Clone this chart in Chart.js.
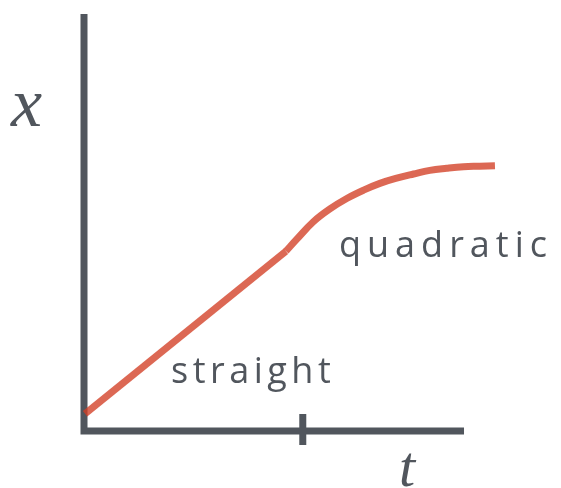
<!doctype html>
<html lang="en">
<head>
    <meta charset="utf-8">
    <title>Straight then quadratic</title>
    <script src="https://cdn.jsdelivr.net/npm/chart.js@4.4.1/dist/chart.umd.min.js"></script>
    <style>
        html, body { margin: 0; padding: 0; background: #ffffff; }
        #wrap { position: relative; width: 561px; height: 488px; }
    </style>
</head>
<body>
<div id="wrap">
    <canvas id="motionCanvas"></canvas>
</div>

<script>
    // values (t across, x up)
    let straightT = [0.02, 3.72];
    let straightX = [0.33, 3.45];
    let quadT = [3.72, 3.92, 4.22, 4.53, 4.84, 5.15, 5.45, 5.76, 6.07, 6.37, 6.68, 6.99, 7.29, 7.57];
    let quadX = [3.45, 3.68, 4.01, 4.26, 4.46, 4.62, 4.75, 4.85, 4.93, 5.00, 5.04, 5.07, 5.08, 5.09];
    let tickT = [4.03];
    let axisEnd = { t: 7, x: 8 };
    let labels = ['straight', 'quadratic'];
    let axisTitles = ['x', 't'];

    const axisColor = '#51565d';
    const curveColor = 'rgba(210, 62, 36, 0.78)';

    function toPoints(ts, xs) {
        return ts.map(function (t, i) {
            return { x: t, y: xs[i] };
        });
    }

    const axesPlugin = {
        id: 'axesPlugin',
        beforeDatasetsDraw(chart) {
            let ctx = chart.ctx;
            let area = chart.chartArea;
            let xs = chart.scales.x;
            let ys = chart.scales.y;
            let x0 = xs.getPixelForValue(0);
            let y0 = ys.getPixelForValue(0);
            ctx.save();
            ctx.strokeStyle = axisColor;
            ctx.lineWidth = 7;
            ctx.lineCap = 'butt';
            ctx.beginPath();
            ctx.moveTo(x0, ys.getPixelForValue(axisEnd.x));
            ctx.lineTo(x0, y0 + 3.5);
            ctx.moveTo(x0 - 3.5, y0);
            ctx.lineTo(xs.getPixelForValue(axisEnd.t), y0);
            tickT.forEach(function (t) {
                let px = xs.getPixelForValue(t);
                ctx.moveTo(px, y0 - 17);
                ctx.lineTo(px, y0 + 14);
            });
            ctx.stroke();
            ctx.restore();
        },
        afterDraw(chart) {
            let ctx = chart.ctx;
            ctx.save();
            ctx.fillStyle = axisColor;
            ctx.textBaseline = 'alphabetic';
            ctx.textAlign = 'left';
            ctx.font = 'italic 70px "Liberation Serif", serif';
            ctx.fillText(axisTitles[0], 11, 126);
            ctx.font = 'italic 58px "Liberation Serif", serif';
            ctx.fillText(axisTitles[1], 399, 486);
            ctx.font = '36px "Open Sans"';
            ctx.letterSpacing = '4.5px';
            ctx.fillText(labels[0], 171, 383);
            ctx.letterSpacing = '6px';
            ctx.fillText(labels[1], 339, 257);
            ctx.restore();
        }
    };

    new Chart(document.getElementById('motionCanvas'), {
        type: 'line',
        data: {
            datasets: [{
                label: 'straight',
                data: toPoints(straightT, straightX),
                borderColor: curveColor,
                borderWidth: 7,
                borderCapStyle: 'butt',
                pointRadius: 0,
                tension: 0,
                clip: false
            }, {
                label: 'quadratic',
                data: toPoints(quadT, quadX),
                borderColor: curveColor,
                borderWidth: 7,
                borderCapStyle: 'butt',
                pointRadius: 0,
                tension: 0.4,
                clip: false
            }]
        },
        options: {
            responsive: true,
            maintainAspectRatio: false,
            animation: false,
            layout: {
                padding: { left: 84, right: 42.7, top: 14, bottom: 57 }
            },
            scales: {
                x: { type: 'linear', min: 0, max: 8, display: false },
                y: { type: 'linear', min: 0, max: axisEnd.x, display: false }
            },
            plugins: {
                legend: { display: false },
                tooltip: { enabled: false }
            }
        },
        plugins: [axesPlugin]
    });
</script>
</body>
</html>
